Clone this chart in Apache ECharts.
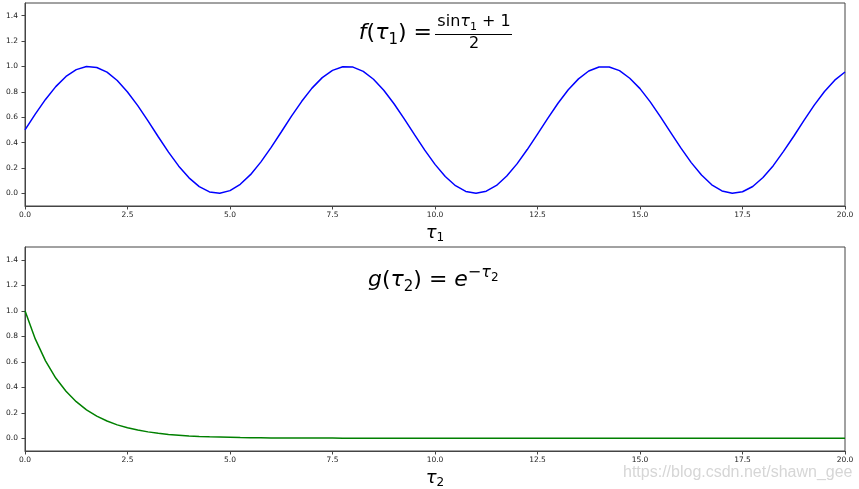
<!DOCTYPE html>
<html><head><meta charset="utf-8">
<script src="https://cdn.jsdelivr.net/npm/echarts@6/dist/echarts.min.js"></script>
<style>html,body{margin:0;padding:0;background:#fff}#c{width:859px;height:489px}</style>
</head><body><div id="c"></div>
<script>
const taus = [0,0.25,0.5,0.75,1,1.25,1.5,1.75,2,2.25,2.5,2.75,3,3.25,3.5,3.75,4,4.25,4.5,4.75,5,5.25,5.5,5.75,6,6.25,6.5,6.75,7,7.25,7.5,7.75,8,8.25,8.5,8.75,9,9.25,9.5,9.75,10,10.25,10.5,10.75,11,11.25,11.5,11.75,12,12.25,12.5,12.75,13,13.25,13.5,13.75,14,14.25,14.5,14.75,15,15.25,15.5,15.75,16,16.25,16.5,16.75,17,17.25,17.5,17.75,18,18.25,18.5,18.75,19,19.25,19.5,19.75,20];
const fValues = [0.5,0.624,0.740,0.841,0.921,0.975,0.999,0.992,0.955,0.889,0.799,0.691,0.571,0.446,0.325,0.214,0.122,0.053,0.011,0.000,0.021,0.071,0.147,0.246,0.360,0.483,0.608,0.725,0.829,0.912,0.969,0.997,0.995,0.961,0.899,0.812,0.706,0.587,0.462,0.340,0.228,0.132,0.060,0.015,0.000,0.017,0.062,0.136,0.232,0.345,0.467,0.591,0.710,0.816,0.902,0.964,0.995,0.996,0.967,0.907,0.825,0.721,0.603,0.479,0.356,0.242,0.144,0.067,0.019,0.000,0.012,0.054,0.125,0.218,0.331,0.450,0.575,0.695,0.803,0.892,0.956];
const gValues = [1.0,0.779,0.607,0.472,0.368,0.287,0.223,0.174,0.135,0.105,0.082,0.064,0.050,0.039,0.030,0.024,0.018,0.014,0.011,0.009,0.007,0.005,0.004,0.003,0.002,0.002,0.002,0.001,0.001,0.001,0.001,0,0,0,0,0,0,0,0,0,0,0,0,0,0,0,0,0,0,0,0,0,0,0,0,0,0,0,0,0,0,0,0,0,0,0,0,0,0,0,0,0,0,0,0,0,0,0,0,0,0];
const xTicks = [0,2.5,5,7.5,10,12.5,15,17.5,20];
const yTicks = [0,0.2,0.4,0.6,0.8,1.0,1.2,1.4];
const xNames = ['{it|τ}{sub|1}','{it|τ}{sub|2}'];
const watermark = 'https://blog.csdn.net/shawn_gee';

const FONT = 'DejaVu Sans';
const axisColor = '#444';
const labelColor = '#222';

function xAxis(i){
  return {
    type:'value', gridIndex:i, min:0, max:20,
    axisLine:{show:true, onZero:false, lineStyle:{color:axisColor, width:1}},
    axisTick:{show:true, inside:false, length:3.5, customValues:xTicks, lineStyle:{color:axisColor}},
    axisLabel:{show:true, customValues:xTicks, fontFamily:FONT, fontSize:7.5, color:labelColor, margin:5.5,
      formatter:v=>v.toFixed(1)},
    splitLine:{show:false},
    name:xNames[i], nameLocation:'middle', nameGap:16,
    nameTextStyle:{fontFamily:FONT, color:'#000', rich:{
      it:{fontFamily:FONT, fontStyle:'italic', fontSize:18, color:'#000'},
      sub:{fontFamily:FONT, fontSize:12, color:'#000', padding:[10,0,0,0]}
    }}
  };
}
function yAxis(i){
  return {
    type:'value', gridIndex:i, min:-0.1, max:1.5,
    axisLine:{show:true, onZero:false, lineStyle:{color:axisColor, width:1}},
    axisTick:{show:true, inside:false, length:3.5, customValues:yTicks, lineStyle:{color:axisColor}},
    axisLabel:{show:true, customValues:yTicks, fontFamily:FONT, fontSize:7.5, color:labelColor, margin:7,
      formatter:v=>v.toFixed(1)},
    splitLine:{show:false}
  };
}
const richMath = {
  it:{fontFamily:FONT, fontStyle:'italic', fontSize:22, color:'#000'},
  rm:{fontFamily:FONT, fontSize:22, color:'#000'},
  sub:{fontFamily:FONT, fontSize:15, color:'#000', padding:[14,0,0,0]},
  nrm:{fontFamily:FONT, fontSize:16, color:'#000'},
  nit:{fontFamily:FONT, fontStyle:'italic', fontSize:16, color:'#000'},
  nsub:{fontFamily:FONT, fontSize:11, color:'#000', padding:[10,0,0,0]},
  sup:{fontFamily:FONT, fontSize:16, color:'#000', padding:[0,0,14,0]},
  supit:{fontFamily:FONT, fontStyle:'italic', fontSize:16, color:'#000', padding:[0,0,14,0]},
  supsub:{fontFamily:FONT, fontSize:12, color:'#000', padding:[0,0,5,0]}
};

const chart = echarts.init(document.getElementById('c'), null, {renderer:'canvas'});
chart.setOption({
  animation:false,
  backgroundColor:'#fff',
  grid:[
    {left:25, top:3, width:820, height:203, show:true, borderColor:axisColor, borderWidth:1, backgroundColor:'transparent', containLabel:false, outerBoundsMode:'none'},
    {left:25, top:247, width:820, height:204, show:true, borderColor:axisColor, borderWidth:1, backgroundColor:'transparent', containLabel:false, outerBoundsMode:'none'}
  ],
  xAxis:[xAxis(0), xAxis(1)],
  yAxis:[yAxis(0), yAxis(1)],
  series:[
    {type:'line', xAxisIndex:0, yAxisIndex:0, showSymbol:false, symbol:'none',
      data:taus.map((t,k)=>[t,fValues[k]]), lineStyle:{color:'#0000ff', width:1.5}, itemStyle:{color:'#0000ff'}},
    {type:'line', xAxisIndex:1, yAxisIndex:1, showSymbol:false, symbol:'none',
      data:taus.map((t,k)=>[t,gValues[k]]), lineStyle:{color:'#008000', width:1.5}, itemStyle:{color:'#008000'}}
  ],
  graphic:[
    {type:'text', x:432, y:33, style:{text:'{it|f}{rm|(}{it|τ}{sub|1}{rm|) =}', align:'right', verticalAlign:'middle', rich:richMath}},
    {type:'text', x:474, y:22, style:{text:'{nrm|sin}{nit|τ}{nsub|1}{nrm| + 1}', align:'center', verticalAlign:'middle', rich:richMath}},
    {type:'line', shape:{x1:435, y1:34.5, x2:512, y2:34.5}, style:{stroke:'#000', lineWidth:1}},
    {type:'text', x:474, y:43.5, style:{text:'2', align:'center', verticalAlign:'middle', fontFamily:FONT, fontSize:16, fill:'#000'}},
    {type:'text', x:368, y:280, style:{text:'{it|g}{rm|(}{it|τ}{sub|2}{rm|) = }{it|e}{sup|−}{supit|τ}{supsub|2}', align:'left', verticalAlign:'middle', rich:richMath}},
    {type:'text', x:623, y:473, style:{text:watermark, align:'left', verticalAlign:'middle', fontFamily:'Liberation Sans', fontSize:16, fill:'#d6d6d6'}}
  ]
});
</script></body></html>
